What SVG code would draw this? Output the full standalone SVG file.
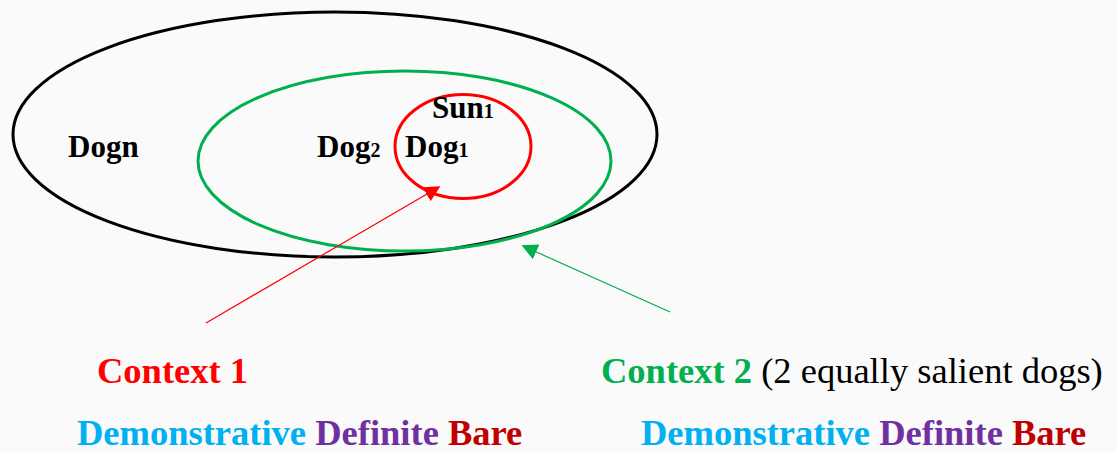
<svg xmlns="http://www.w3.org/2000/svg" width="1117" height="452" viewBox="0 0 1117 452">
<style>
.lbl{font-family:"Liberation Serif","Times New Roman",serif;font-weight:bold;font-size:31px;fill:#000}
.sub{font-size:20px}
.big{font-family:"Liberation Serif","Times New Roman",serif;font-size:36.5px}
.b{font-weight:bold}
.dem{fill:#00b0f0}.def{fill:#7030a0}.bare{fill:#c00000}
</style>
<defs>
<marker id="ar" viewBox="0 0 10 10" refX="9" refY="5" markerWidth="16" markerHeight="16" markerUnits="userSpaceOnUse" orient="auto"><path d="M0,0L10,5L0,10z" fill="#ff0000"/></marker>
<marker id="ag" viewBox="0 0 10 10" refX="9" refY="5" markerWidth="16" markerHeight="16" markerUnits="userSpaceOnUse" orient="auto"><path d="M0,0L10,5L0,10z" fill="#00b050"/></marker>
</defs>
<rect width="1117" height="452" fill="#fafafa"/>
<g id="all-dogs"><ellipse cx="335" cy="134.5" rx="322" ry="122.5" fill="none" stroke="#000" stroke-width="3"/>
<text class="lbl" x="68" y="157">Dogn</text></g>
<g id="context2-set"><ellipse cx="404.5" cy="161" rx="206.5" ry="90" fill="none" stroke="#00b050" stroke-width="3"/>
<text class="lbl" x="317" y="157">Dog<tspan class="sub">2</tspan></text></g>
<g id="context1-set"><ellipse cx="463" cy="146.5" rx="68" ry="52" fill="none" stroke="#ff0000" stroke-width="3"/>
<text class="lbl" x="405" y="157">Dog<tspan class="sub">1</tspan></text>
<text class="lbl" x="432" y="118">Sun<tspan class="sub">1</tspan></text></g>
<g id="connectors">
<line x1="206" y1="323" x2="439" y2="187" stroke="#ff0000" stroke-width="1.2" marker-end="url(#ar)"/>
<line x1="670" y1="312" x2="523" y2="246" stroke="#00b050" stroke-width="1.2" marker-end="url(#ag)"/>
</g>
<g id="context1"><text class="big b" x="97" y="383" fill="#ff0000">Context 1</text>
<text class="big b" x="77" y="445"><tspan class="dem">Demonstrative</tspan> <tspan class="def">Definite</tspan> <tspan class="bare">Bare</tspan></text></g>
<g id="context2"><text class="big" x="601" y="383"><tspan class="b" fill="#00b050">Context 2</tspan> (2 equally salient dogs)</text>
<text class="big b" x="641" y="445"><tspan class="dem">Demonstrative</tspan> <tspan class="def">Definite</tspan> <tspan class="bare">Bare</tspan></text></g>
</svg>
